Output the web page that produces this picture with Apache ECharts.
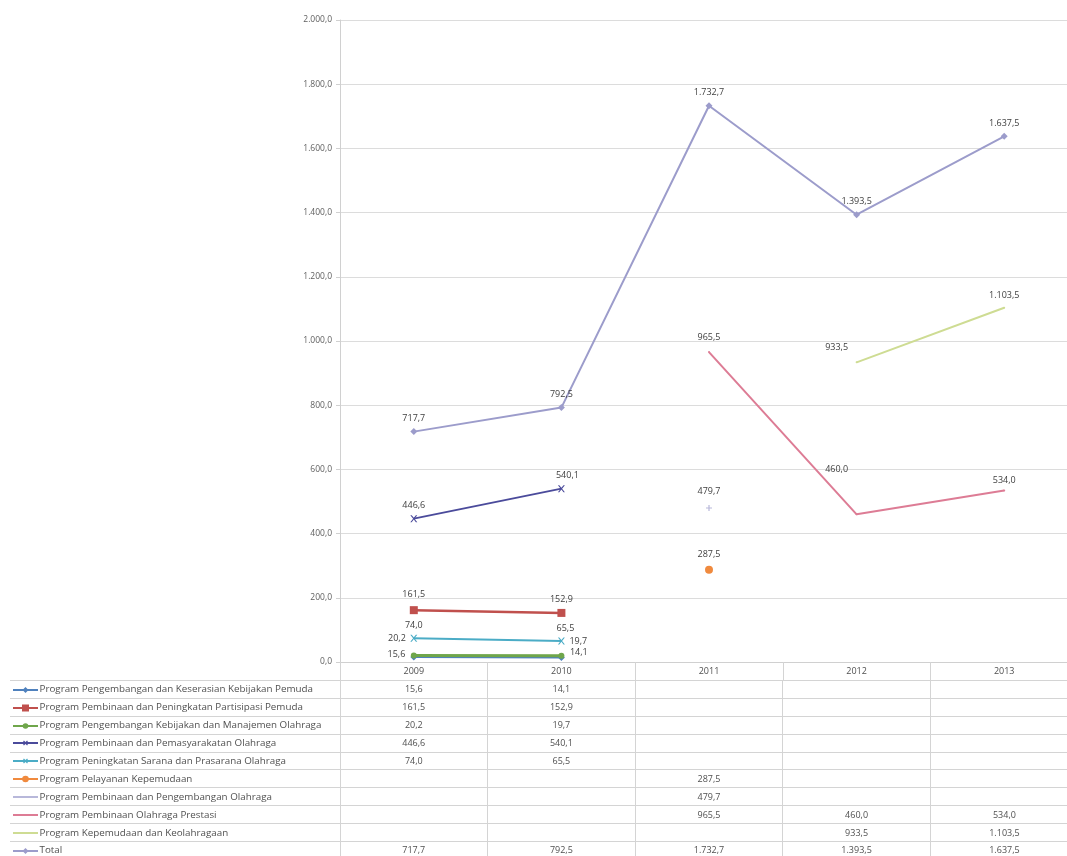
<!DOCTYPE html>
<html>
<head>
<meta charset="utf-8">
<script src="https://cdn.jsdelivr.net/npm/echarts@6/dist/echarts.min.js"></script>
<style>
  html, body { margin:0; padding:0; background:#fff; }
  #wrap { position:relative; width:1067px; height:856px; overflow:hidden; }
  #chart { position:absolute; left:0; top:0; width:1078px; height:856px; }
  #tbl { position:absolute; left:10px; top:680px; border-collapse:collapse; table-layout:fixed;
         font-family:"Open Sans", sans-serif; font-size:9px; color:#505050; }
  #tbl td { height:16.9px; padding:0; border-top:1px solid #d4d4d4; border-left:1px solid #d4d4d4;
            text-align:center; white-space:nowrap; overflow:hidden; line-height:16px; }
  #tbl td.name { text-align:left; border-left:none; font-size:9.8px; }
  #tbl td.name svg { vertical-align:middle; margin-right:2px; }
</style>
</head>
<body>
<div id="wrap">
  <div id="chart"></div>
  <table id="tbl"></table>
</div>
<script>
// ---- data ----
const categories = ['2009', '2010', '2011', '2012', '2013'];
const seriesNames = [
  'Program Pengembangan dan Keserasian Kebijakan Pemuda',
  'Program Pembinaan dan Peningkatan Partisipasi Pemuda',
  'Program Pengembangan Kebijakan dan Manajemen Olahraga',
  'Program Pembinaan dan Pemasyarakatan Olahraga',
  'Program Peningkatan Sarana dan Prasarana Olahraga',
  'Program Pelayanan Kepemudaan',
  'Program Pembinaan dan Pengembangan Olahraga',
  'Program Pembinaan Olahraga Prestasi',
  'Program Kepemudaan dan Keolahragaan',
  'Total'
];
const keserasianPemuda   = [15.6, 14.1, null, null, null];
const partisipasiPemuda  = [161.5, 152.9, null, null, null];
const manajemenOlahraga  = [20.2, 19.7, null, null, null];
const pemasyarakatan     = [446.6, 540.1, null, null, null];
const saranaPrasarana    = [74.0, 65.5, null, null, null];
const pelayananPemuda    = [null, null, 287.5, null, null];
const pengembanganOR     = [null, null, 479.7, null, null];
const olahragaPrestasi   = [null, null, 965.5, 460.0, 534.0];
const kepemudaanOR       = [null, null, null, 933.5, 1103.5];
const totalValues        = [717.7, 792.5, 1732.7, 1393.5, 1637.5];
const yTicks = { min: 0, max: 2000, interval: 200 };

const allData = [keserasianPemuda, partisipasiPemuda, manajemenOlahraga, pemasyarakatan,
  saranaPrasarana, pelayananPemuda, pengembanganOR, olahragaPrestasi, kepemudaanOR, totalValues];

function fmt(v) {
  if (v === null || v === undefined) return '';
  const s = Number(v).toFixed(1);
  let [i, d] = s.split('.');
  i = i.replace(/\B(?=(\d{3})+(?!\d))/g, '.');
  return i + ',' + d;
}

const xSym = 'path://M0,0L2,0L5,3L8,0L10,0L6,4L10,8L8,8L5,5L2,8L0,8L4,4Z';
const plusSym = 'path://M4,0L6,0L6,4L10,4L10,6L6,6L6,10L4,10L4,6L0,6L0,4L4,4Z';
const styles = [
  { color:'#4F81BD', symbol:'diamond', size:7, width:2, label:['left','right'], off:[[0,-3],[0,-5]] },
  { color:'#C0504D', symbol:'rect', size:8, width:2.5, label:['top','top'], off:[[0,-2],[0,0]] },
  { color:'#6FA64B', symbol:'circle', size:6, width:3, label:['left','right'], off:[[0,-17],[0,-14]] },
  { color:'#4B4B9B', symbol:xSym, size:7, width:2, label:['top','top'], off:[[0,0],[6,0]] },
  { color:'#4BACC6', symbol:xSym, size:7, width:2, label:['top','top'], off:[[0,0],[4,0]] },
  { color:'#F08A3E', symbol:'circle', size:8, width:2, label:['top'], off:[[0,-2]] },
  { color:'#B8B8DA', symbol:plusSym, size:6, width:2, label:['top'], off:[[0,-4]] },
  { color:'#DD7C95', symbol:'circle', size:2, width:2, label:['top','top','top'], off:[[0,-4],[-20,-34],[0,0]] },
  { color:'#CEDC93', symbol:'circle', size:2, width:2, label:['top','top'], off:[[-20,-4],[0,-2]] },
  { color:'#9C9CCB', symbol:'diamond', size:7, width:2, label:['top','top','top','top','top'], off:[[0,0],[0,0],[0,0],[0,0],[0,0]] }
];

function buildSeries(idx) {
  const st = styles[idx];
  const arr = allData[idx];
  let k = 0;
  const data = arr.map(v => {
    if (v === null) return null;
    const pos = st.label[k] || 'top';
    const off = st.off[k] || [0, 0];
    k++;
    return { value: v, label: { position: pos, offset: off } };
  });
  return {
    name: seriesNames[idx],
    type: 'line',
    data: data,
    connectNulls: false,
    symbol: st.symbol,
    symbolSize: st.size,
    showAllSymbol: true,
    lineStyle: { color: st.color, width: st.width },
    itemStyle: { color: st.color },
    label: {
      show: true,
      formatter: p => fmt(p.value),
      fontFamily: 'Open Sans, sans-serif',
      fontSize: 9,
      color: '#404040',
      distance: 5
    },
    z: 2 + idx,
    animation: false
  };
}

const chart = echarts.init(document.getElementById('chart'), null, { renderer: 'canvas' });
chart.setOption({
  animation: false,
  backgroundColor: '#ffffff',
  grid: { left: 340, right: 0, top: 20, bottom: 194, containLabel: false },
  xAxis: {
    type: 'category',
    data: categories,
    boundaryGap: true,
    axisLine: { show: true, lineStyle: { color: '#d0d0d0', width: 1 } },
    axisTick: { show: true, length: 18, lineStyle: { color: '#d4d4d4' } },
    axisLabel: { color: '#505050', fontSize: 9, fontFamily: 'Open Sans, sans-serif', margin: 5 },
    splitLine: { show: false }
  },
  yAxis: {
    type: 'value',
    min: yTicks.min, max: yTicks.max, interval: yTicks.interval,
    axisLine: { show: true, lineStyle: { color: '#d0d0d0' } },
    axisTick: { show: true, length: 4, lineStyle: { color: '#d0d0d0' } },
    axisLabel: { color: '#606060', fontSize: 8.5, fontFamily: 'Open Sans, sans-serif', margin: 8, formatter: v => fmt(v) },
    splitLine: { show: true, lineStyle: { color: '#dcdcdc', width: 1 } }
  },
  series: allData.map((_, i) => buildSeries(i))
});

// ---- data table below the chart ----
function keySvg(idx) {
  const st = styles[idx];
  let marker = '';
  const c = st.color;
  if (idx === 0 || idx === 9) marker = `<path d="M12.5,1 L15.5,4 L12.5,7 L9.5,4 Z" fill="${c}"/>`;
  else if (idx === 1) marker = `<rect x="9" y="0.5" width="7" height="7" fill="${c}"/>`;
  else if (idx === 2) marker = `<circle cx="12.5" cy="4" r="2.8" fill="${c}"/>`;
  else if (idx === 5) marker = `<circle cx="12.5" cy="4" r="3.3" fill="${c}"/>`;
  else if (idx === 4 || idx === 3) marker = `<path d="M10.5,2 L14.5,6 M14.5,2 L10.5,6" stroke="${c}" stroke-width="1.2"/>`;
  return `<svg width="25" height="8"><line x1="0" y1="4" x2="25" y2="4" stroke="${c}" stroke-width="2"/>${marker}</svg>`;
}
const nameW = 330;
const colW = 147.6;
const tbl = document.getElementById('tbl');
tbl.style.width = (nameW + colW * categories.length) + 'px';
let html = `<colgroup><col style="width:${nameW}px">` + categories.map(() => `<col style="width:${colW}px">`).join('') + '</colgroup>';
seriesNames.forEach((name, i) => {
  html += '<tr><td class="name">&nbsp;' + keySvg(i) + name + '</td>' +
    allData[i].map(v => '<td>' + fmt(v) + '</td>').join('') + '</tr>';
});
tbl.innerHTML = html;
</script>
</body>
</html>
